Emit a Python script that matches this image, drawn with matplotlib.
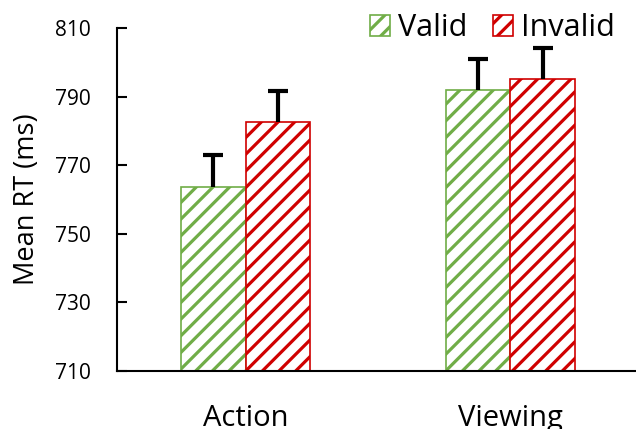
import numpy as np
import matplotlib
matplotlib.use('Agg')
import matplotlib.pyplot as plt

# mean RT per condition, upper error only
conditions = ['Action', 'Viewing']
valid_rt = [763.7, 791.9]
invalid_rt = [782.5, 795.0]
valid_err = [9.2, 9.0]
invalid_err = [9.2, 9.1]
y_ticks = [710, 730, 750, 770, 790, 810]

green = '#70AD47'
red = '#D00000'

plt.rcParams['font.family'] = ['Open Sans', 'DejaVu Sans']
plt.rcParams['hatch.linewidth'] = 2.3

fig = plt.figure(figsize=(6.36, 4.29), dpi=100)
ax = fig.add_axes([117/636, 1 - 370.7/429, 1 - 117/636, (370.7 - 28)/429])

x = np.arange(len(conditions))
w = 0.244
err_style = dict(ecolor='black', elinewidth=3, capsize=7.5, capthick=3)

bars_v = ax.bar(x - w/2, valid_rt, w, color='white', edgecolor=green, hatch='//',
                linewidth=1.2, label='Valid',
                yerr=[[0]*len(valid_err), valid_err], error_kw=err_style)
bars_i = ax.bar(x + w/2, invalid_rt, w, color='white', edgecolor=red, hatch='//',
                linewidth=1.2, label='Invalid',
                yerr=[[0]*len(invalid_err), invalid_err], error_kw=err_style)

# keep only the upper caps
for b in (bars_v, bars_i):
    caps = b.errorbar.lines[1]
    caps[0].set_visible(False)

ax.set_ylim(710, 810)
ax.set_xlim(-0.486, 1.475)
ax.set_yticks(y_ticks)
ax.set_xticks(x)
ax.set_xticklabels(conditions, fontsize=21)
ax.tick_params(axis='y', direction='in', length=7, width=1.5, labelsize=15, pad=19)
ax.tick_params(axis='x', length=0, pad=24)
for s in ['top', 'right']:
    ax.spines[s].set_visible(False)
for s in ['left', 'bottom']:
    ax.spines[s].set_linewidth(1.5)

ax.set_ylabel('Mean RT (ms)', fontsize=19.5, labelpad=10)

ax.legend(loc='upper right', bbox_to_anchor=(633/636, 1.012), bbox_transform=fig.transFigure,
          ncol=2, frameon=False, fontsize=22, handlelength=0.65, handleheight=0.65,
          handletextpad=0.25, columnspacing=0.85, borderpad=0.1)

plt.savefig('out.png', dpi=100)
